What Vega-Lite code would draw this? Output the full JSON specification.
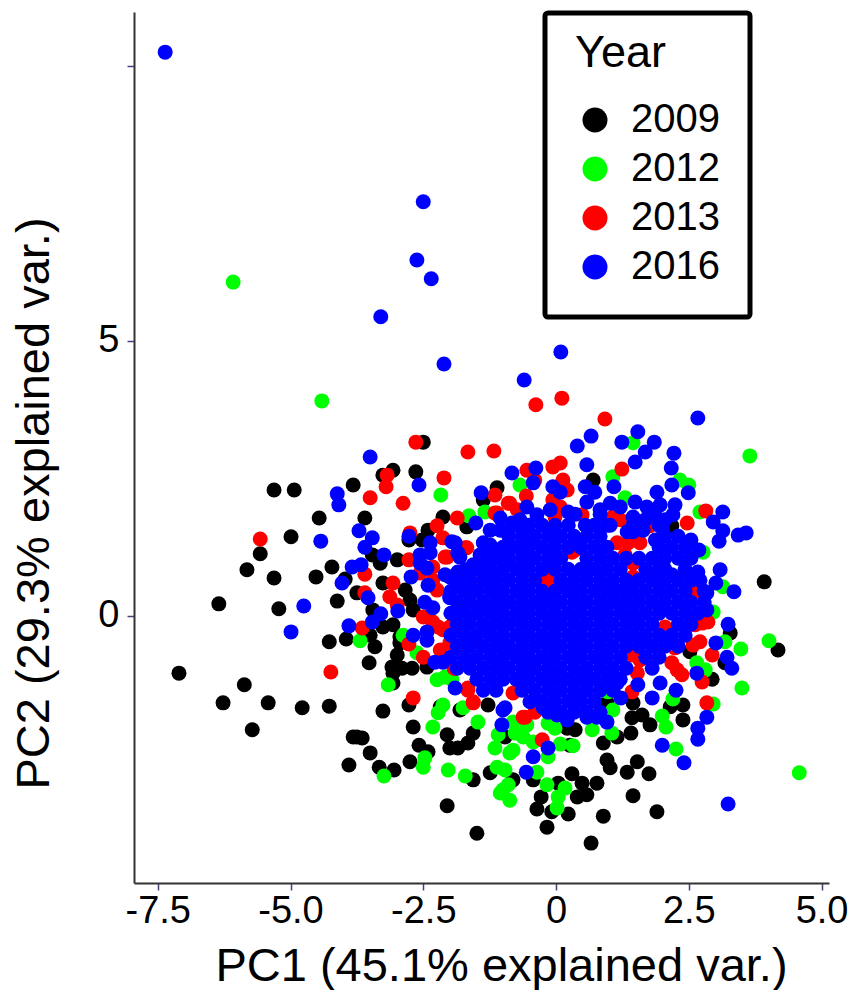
{"$schema":"https://vega.github.io/schema/vega-lite/v6.json","width":695,"height":871,"autosize":"none","padding":{"left":134,"top":12,"right":30,"bottom":107},"background":"white",
"config":{"view":{"stroke":null},"font":"Liberation Sans","legend":{"strokeWidth":5},"axis":{"grid":false,"domainColor":"#333333","domainWidth":2,"tickColor":"#4b3d78","tickSize":7,"tickWidth":1.5,"labelFont":"Liberation Sans","titleFont":"Liberation Sans","labelColor":"black","titleColor":"black","labelFontSize":38,"titleFontSize":47,"titleFontWeight":"normal","labelOverlap":false,"labelFlush":false}},
"data":{"values":[
{"c":-5.31,"d":2.29,"year":"2009"},{"c":-4.93,"d":2.29,"year":"2009"},{"c":-3.82,"d":2.38,"year":"2009"},{"c":-4.46,"d":1.78,"year":"2009"},{"c":-3.60,"d":1.78,"year":"2009"},{"c":-4.99,"d":1.44,"year":"2009"},{"c":-5.57,"d":1.13,"year":"2009"},{"c":-5.82,"d":0.84,"year":"2009"},{"c":-5.31,"d":0.69,"year":"2009"},{"c":-4.52,"d":0.71,"year":"2009"},{"c":-4.22,"d":0.89,"year":"2009"},{"c":-6.35,"d":0.22,"year":"2009"},{"c":-5.22,"d":0.13,"year":"2009"},{"c":-4.12,"d":0.27,"year":"2009"},{"c":-4.27,"d":-0.47,"year":"2009"},{"c":-3.95,"d":-0.42,"year":"2009"},{"c":-7.10,"d":-1.04,"year":"2009"},{"c":-5.87,"d":-1.25,"year":"2009"},{"c":-6.27,"d":-1.58,"year":"2009"},{"c":-5.42,"d":-1.58,"year":"2009"},{"c":-4.78,"d":-1.67,"year":"2009"},{"c":-4.27,"d":-1.64,"year":"2009"},{"c":-5.72,"d":-2.07,"year":"2009"},{"c":-3.26,"d":-1.73,"year":"2009"},{"c":-2.77,"d":-1.62,"year":"2009"},{"c":-2.69,"d":-2.02,"year":"2009"},{"c":-2.05,"d":-3.45,"year":"2009"},{"c":-1.49,"d":-3.95,"year":"2009"},{"c":-3.90,"d":-2.71,"year":"2009"},{"c":-3.50,"d":-2.49,"year":"2009"},{"c":-3.82,"d":-2.20,"year":"2009"},{"c":-3.65,"d":-2.22,"year":"2009"},{"c":-3.75,"d":-2.20,"year":"2009"},{"c":-3.33,"d":-2.75,"year":"2009"},{"c":-3.05,"d":-2.80,"year":"2009"},{"c":-2.75,"d":-2.65,"year":"2009"},{"c":-2.58,"d":-2.35,"year":"2009"},{"c":-2.41,"d":-2.47,"year":"2009"},{"c":-1.56,"d":-2.98,"year":"2009"},{"c":-1.24,"d":-2.85,"year":"2009"},{"c":-2.05,"d":-2.16,"year":"2009"},{"c":-2.00,"d":-2.40,"year":"2009"},{"c":-1.85,"d":-2.40,"year":"2009"},{"c":-1.66,"d":-2.31,"year":"2009"},{"c":-1.56,"d":-2.13,"year":"2009"},{"c":-1.81,"d":-1.71,"year":"2009"},{"c":-1.28,"d":-1.62,"year":"2009"},{"c":-2.18,"d":-1.65,"year":"2009"},{"c":-2.50,"d":3.16,"year":"2009"},{"c":-3.07,"d":2.65,"year":"2009"},{"c":-3.26,"d":2.56,"year":"2009"},{"c":-2.64,"d":2.62,"year":"2009"},{"c":-2.77,"d":1.38,"year":"2009"},{"c":-2.13,"d":1.80,"year":"2009"},{"c":-2.41,"d":1.56,"year":"2009"},{"c":-2.52,"d":1.38,"year":"2009"},{"c":-1.68,"d":1.62,"year":"2009"},{"c":-1.11,"d":2.33,"year":"2009"},{"c":-1.37,"d":2.11,"year":"2009"},{"c":-3.46,"d":1.11,"year":"2009"},{"c":-3.31,"d":0.96,"year":"2009"},{"c":-2.99,"d":1.02,"year":"2009"},{"c":-3.97,"d":0.67,"year":"2009"},{"c":-3.75,"d":0.42,"year":"2009"},{"c":-3.26,"d":0.60,"year":"2009"},{"c":-2.84,"d":0.47,"year":"2009"},{"c":-2.75,"d":0.29,"year":"2009"},{"c":-2.69,"d":0.11,"year":"2009"},{"c":-3.45,"d":0.11,"year":"2009"},{"c":-3.26,"d":-0.20,"year":"2009"},{"c":-3.07,"d":-0.16,"year":"2009"},{"c":-3.50,"d":-0.35,"year":"2009"},{"c":-3.41,"d":-0.56,"year":"2009"},{"c":-2.94,"d":-0.38,"year":"2009"},{"c":-2.94,"d":-0.49,"year":"2009"},{"c":-2.99,"d":-0.71,"year":"2009"},{"c":-3.09,"d":-0.93,"year":"2009"},{"c":-3.52,"d":-0.85,"year":"2009"},{"c":-2.90,"d":-0.95,"year":"2009"},{"c":-2.71,"d":-0.95,"year":"2009"},{"c":-2.43,"d":-0.93,"year":"2009"},{"c":-3.07,"d":-1.22,"year":"2009"},{"c":-3.07,"d":-1.04,"year":"2009"},
{"c":3.92,"d":0.62,"year":"2009"},{"c":4.18,"d":-0.62,"year":"2009"},{"c":0.70,"d":2.47,"year":"2009"},{"c":2.18,"d":1.64,"year":"2009"},{"c":3.28,"d":-0.31,"year":"2009"},{"c":2.52,"d":-0.65,"year":"2009"},{"c":2.94,"d":-1.15,"year":"2009"},{"c":3.18,"d":-0.85,"year":"2009"},{"c":2.39,"d":-1.89,"year":"2009"},{"c":2.39,"d":-1.62,"year":"2009"},{"c":2.15,"d":-1.65,"year":"2009"},{"c":1.62,"d":-1.80,"year":"2009"},{"c":1.43,"d":-1.85,"year":"2009"},{"c":1.41,"d":-2.13,"year":"2009"},{"c":1.77,"d":-1.98,"year":"2009"},{"c":1.15,"d":-2.20,"year":"2009"},{"c":0.89,"d":-2.31,"year":"2009"},{"c":0.36,"d":-2.07,"year":"2009"},{"c":0.21,"d":-2.04,"year":"2009"},{"c":0.96,"d":-2.62,"year":"2009"},{"c":1.02,"d":-2.76,"year":"2009"},{"c":1.53,"d":-2.65,"year":"2009"},{"c":1.34,"d":-2.84,"year":"2009"},{"c":1.75,"d":-2.87,"year":"2009"},{"c":0.30,"d":-2.87,"year":"2009"},{"c":0.77,"d":-3.04,"year":"2009"},{"c":0.49,"d":-3.04,"year":"2009"},{"c":0.58,"d":-3.25,"year":"2009"},{"c":0.40,"d":-3.29,"year":"2009"},{"c":1.45,"d":-3.27,"year":"2009"},{"c":1.90,"d":-3.56,"year":"2009"},{"c":0.89,"d":-3.64,"year":"2009"},{"c":0.23,"d":-3.60,"year":"2009"},{"c":-0.28,"d":-3.29,"year":"2009"},{"c":-0.36,"d":-3.51,"year":"2009"},{"c":-0.08,"d":-3.56,"year":"2009"},{"c":-0.17,"d":-3.84,"year":"2009"},{"c":0.66,"d":-4.13,"year":"2009"},{"c":0.04,"d":-3.04,"year":"2009"},{"c":-0.43,"d":-2.98,"year":"2009"},{"c":0.26,"d":-2.35,"year":"2009"},{"c":-0.96,"d":-2.20,"year":"2009"},{"c":-0.81,"d":-2.98,"year":"2009"},{"c":0.96,"d":-1.58,"year":"2009"},{"c":1.45,"d":-1.58,"year":"2009"},
{"c":-6.08,"d":6.07,"year":"2012"},{"c":-4.41,"d":3.91,"year":"2012"},{"c":-2.17,"d":2.20,"year":"2012"},{"c":-3.69,"d":-0.45,"year":"2012"},{"c":-3.16,"d":-1.25,"year":"2012"},{"c":-2.24,"d":-1.16,"year":"2012"},{"c":-2.09,"d":-1.11,"year":"2012"},{"c":-1.96,"d":-1.16,"year":"2012"},{"c":-2.13,"d":-1.62,"year":"2012"},{"c":-2.22,"d":-1.76,"year":"2012"},{"c":-2.32,"d":-2.02,"year":"2012"},{"c":-2.47,"d":-2.58,"year":"2012"},{"c":-2.50,"d":-2.75,"year":"2012"},{"c":-3.24,"d":-2.91,"year":"2012"},{"c":-2.03,"d":-2.80,"year":"2012"},{"c":-1.71,"d":-2.91,"year":"2012"},{"c":-1.15,"d":-2.40,"year":"2012"},{"c":-1.11,"d":-2.75,"year":"2012"},{"c":-1.05,"d":-3.22,"year":"2012"},{"c":-1.47,"d":-1.93,"year":"2012"},{"c":-1.75,"d":-1.67,"year":"2012"},{"c":-2.88,"d":-0.35,"year":"2012"},{"c":-2.62,"d":-0.67,"year":"2012"},{"c":-1.64,"d":1.82,"year":"2012"},{"c":-1.34,"d":1.89,"year":"2012"},{"c":3.65,"d":2.91,"year":"2012"},{"c":1.45,"d":3.15,"year":"2012"},{"c":4.58,"d":-2.85,"year":"2012"},{"c":4.01,"d":-0.45,"year":"2012"},{"c":3.48,"d":-0.60,"year":"2012"},{"c":3.50,"d":-1.31,"year":"2012"},{"c":2.26,"d":-2.42,"year":"2012"},{"c":2.07,"d":-2.02,"year":"2012"},{"c":2.00,"d":-1.82,"year":"2012"},{"c":2.20,"d":-1.51,"year":"2012"},{"c":1.05,"d":-2.13,"year":"2012"},{"c":0.68,"d":-2.07,"year":"2012"},{"c":0.32,"d":-2.36,"year":"2012"},{"c":0.08,"d":-2.33,"year":"2012"},{"c":-0.15,"d":-2.56,"year":"2012"},{"c":-0.17,"d":-3.07,"year":"2012"},{"c":0.17,"d":-3.13,"year":"2012"},{"c":0.04,"d":-3.29,"year":"2012"},{"c":0.02,"d":-3.49,"year":"2012"},{"c":-0.87,"d":-3.35,"year":"2012"},{"c":-0.90,"d":-3.07,"year":"2012"},{"c":-1.00,"d":-3.16,"year":"2012"},{"c":-0.96,"d":-2.80,"year":"2012"},{"c":-0.36,"d":-2.84,"year":"2012"},{"c":-0.81,"d":-2.44,"year":"2012"},{"c":-0.77,"d":-2.13,"year":"2012"},{"c":-0.62,"d":-2.20,"year":"2012"},{"c":-0.87,"d":-2.49,"year":"2012"},{"c":-0.15,"d":-1.95,"year":"2012"},{"c":-0.02,"d":-2.04,"year":"2012"},{"c":-0.43,"d":-2.29,"year":"2012"},{"c":-0.81,"d":-1.93,"year":"2012"},{"c":1.07,"d":2.53,"year":"2012"},{"c":2.33,"d":2.47,"year":"2012"},{"c":2.50,"d":2.38,"year":"2012"},{"c":1.30,"d":2.15,"year":"2012"},{"c":2.71,"d":1.89,"year":"2012"},{"c":2.77,"d":1.16,"year":"2012"},{"c":3.14,"d":0.53,"year":"2012"},{"c":2.96,"d":0.07,"year":"2012"},{"c":3.18,"d":-0.47,"year":"2012"},{"c":2.65,"d":-0.85,"year":"2012"},{"c":2.81,"d":-0.98,"year":"2012"},{"c":2.96,"d":-1.60,"year":"2012"},{"c":1.07,"d":-1.71,"year":"2012"},{"c":0.98,"d":-1.38,"year":"2012"},{"c":-0.68,"d":2.38,"year":"2012"},{"c":2.52,"d":0.65,"year":"2012"},{"c":-0.55,"d":-1.98,"year":"2012"},{"c":-1.09,"d":-2.16,"year":"2012"},{"c":-0.72,"d":0.20,"year":"2012"},{"c":-1.05,"d":-0.44,"year":"2012"},{"c":0.08,"d":-1.16,"year":"2012"},{"c":0.83,"d":-1.35,"year":"2012"},{"c":1.58,"d":0.29,"year":"2012"},{"c":0.30,"d":-0.44,"year":"2012"},{"c":-0.94,"d":-0.11,"year":"2012"},{"c":-1.24,"d":0.75,"year":"2012"},{"c":-0.49,"d":-0.98,"year":"2012"},
{"c":-2.64,"d":3.16,"year":"2013"},{"c":-1.66,"d":2.98,"year":"2013"},{"c":-1.17,"d":3.00,"year":"2013"},{"c":-3.18,"d":2.56,"year":"2013"},{"c":-3.20,"d":2.35,"year":"2013"},{"c":-2.11,"d":2.51,"year":"2013"},{"c":-3.50,"d":2.15,"year":"2013"},{"c":-2.88,"d":2.05,"year":"2013"},{"c":-5.57,"d":1.40,"year":"2013"},{"c":-1.86,"d":1.78,"year":"2013"},{"c":-2.24,"d":1.64,"year":"2013"},{"c":-2.75,"d":1.51,"year":"2013"},{"c":-1.15,"d":2.20,"year":"2013"},{"c":-1.15,"d":1.87,"year":"2013"},{"c":-2.77,"d":1.02,"year":"2013"},{"c":-3.60,"d":0.76,"year":"2013"},{"c":-3.07,"d":0.60,"year":"2013"},{"c":-3.13,"d":0.35,"year":"2013"},{"c":-3.60,"d":0.42,"year":"2013"},{"c":-2.99,"d":0.20,"year":"2013"},{"c":-3.65,"d":-0.22,"year":"2013"},{"c":-2.50,"d":-0.02,"year":"2013"},{"c":-2.32,"d":-0.11,"year":"2013"},{"c":-2.13,"d":-0.25,"year":"2013"},{"c":-2.22,"d":-0.20,"year":"2013"},{"c":-1.94,"d":-0.20,"year":"2013"},{"c":-2.77,"d":-0.51,"year":"2013"},{"c":-2.50,"d":-0.75,"year":"2013"},{"c":-2.18,"d":-0.62,"year":"2013"},{"c":-2.00,"d":-0.49,"year":"2013"},{"c":-4.24,"d":-1.02,"year":"2013"},{"c":-1.92,"d":-0.95,"year":"2013"},{"c":-2.69,"d":-1.49,"year":"2013"},{"c":-1.56,"d":-1.58,"year":"2013"},{"c":-1.66,"d":-1.31,"year":"2013"},{"c":-1.58,"d":-0.44,"year":"2013"},{"c":-2.09,"d":1.07,"year":"2013"},{"c":-2.32,"d":0.89,"year":"2013"},{"c":-2.13,"d":1.42,"year":"2013"},{"c":-1.68,"d":1.24,"year":"2013"},{"c":-2.24,"d":0.47,"year":"2013"},{"c":-2.32,"d":0.65,"year":"2013"},{"c":-2.56,"d":0.78,"year":"2013"},{"c":-1.62,"d":0.65,"year":"2013"},{"c":-0.38,"d":3.84,"year":"2013"},{"c":0.11,"d":3.96,"year":"2013"},{"c":0.92,"d":3.58,"year":"2013"},{"c":0.08,"d":2.78,"year":"2013"},{"c":-0.06,"d":2.71,"year":"2013"},{"c":-0.55,"d":2.65,"year":"2013"},{"c":-0.40,"d":2.47,"year":"2013"},{"c":-0.56,"d":2.18,"year":"2013"},{"c":0.13,"d":2.47,"year":"2013"},{"c":0.21,"d":2.29,"year":"2013"},{"c":-0.06,"d":2.11,"year":"2013"},{"c":0.08,"d":1.98,"year":"2013"},{"c":-0.87,"d":2.05,"year":"2013"},{"c":-0.73,"d":1.93,"year":"2013"},{"c":1.24,"d":2.67,"year":"2013"},{"c":2.47,"d":1.69,"year":"2013"},{"c":2.82,"d":1.91,"year":"2013"},{"c":0.49,"d":1.84,"year":"2013"},{"c":1.07,"d":1.80,"year":"2013"},{"c":1.21,"d":1.75,"year":"2013"},{"c":1.77,"d":1.64,"year":"2013"},{"c":1.15,"d":1.33,"year":"2013"},{"c":1.36,"d":1.33,"year":"2013"},{"c":1.58,"d":1.33,"year":"2013"},{"c":1.30,"d":1.11,"year":"2013"},{"c":1.45,"d":0.96,"year":"2013"},{"c":1.45,"d":0.71,"year":"2013"},{"c":2.05,"d":0.69,"year":"2013"},{"c":2.62,"d":0.44,"year":"2013"},{"c":2.75,"d":-0.13,"year":"2013"},{"c":2.62,"d":-0.16,"year":"2013"},{"c":2.86,"d":-0.11,"year":"2013"},{"c":2.71,"d":-0.47,"year":"2013"},{"c":2.58,"d":-0.53,"year":"2013"},{"c":2.05,"d":-0.20,"year":"2013"},{"c":2.24,"d":-0.58,"year":"2013"},{"c":2.18,"d":-0.85,"year":"2013"},{"c":2.28,"d":-0.98,"year":"2013"},{"c":2.37,"d":-1.07,"year":"2013"},{"c":1.43,"d":-0.71,"year":"2013"},{"c":1.53,"d":-1.04,"year":"2013"},{"c":1.43,"d":-1.38,"year":"2013"},{"c":2.94,"d":-0.71,"year":"2013"},{"c":2.75,"d":-1.20,"year":"2013"},{"c":2.84,"d":-1.58,"year":"2013"},{"c":-0.26,"d":-2.25,"year":"2013"},{"c":-0.58,"d":-1.84,"year":"2013"},{"c":-0.40,"d":-1.75,"year":"2013"},{"c":0.51,"d":-1.11,"year":"2013"},{"c":0.04,"d":-1.11,"year":"2013"},{"c":-0.15,"d":0.65,"year":"2013"},{"c":0.40,"d":0.44,"year":"2013"},{"c":0.96,"d":0.51,"year":"2013"},{"c":1.07,"d":0.44,"year":"2013"},{"c":-0.36,"d":0.24,"year":"2013"},{"c":1.45,"d":-0.02,"year":"2013"},{"c":-0.43,"d":-0.93,"year":"2013"},{"c":-0.64,"d":-0.76,"year":"2013"},{"c":-0.96,"d":0.96,"year":"2013"},{"c":0.30,"d":1.16,"year":"2013"},{"c":-0.06,"d":1.02,"year":"2013"},{"c":-1.24,"d":0.47,"year":"2013"},{"c":-1.28,"d":-0.25,"year":"2013"},{"c":-1.62,"d":-0.44,"year":"2013"},{"c":-0.90,"d":0.96,"year":"2013"},{"c":-0.21,"d":0.71,"year":"2013"},{"c":0.13,"d":0.53,"year":"2013"},{"c":-0.53,"d":0.87,"year":"2013"},{"c":-0.58,"d":1.20,"year":"2013"},{"c":-2.00,"d":-0.20,"year":"2013"},{"c":-0.62,"d":-0.85,"year":"2013"},{"c":-0.40,"d":-0.95,"year":"2013"},{"c":-0.11,"d":-1.11,"year":"2013"},{"c":-1.24,"d":1.07,"year":"2013"},{"c":-0.90,"d":2.05,"year":"2013"},{"c":-1.11,"d":1.87,"year":"2013"},{"c":-1.66,"d":-1.35,"year":"2013"},{"c":-1.56,"d":-1.56,"year":"2013"},{"c":-0.62,"d":-1.84,"year":"2013"},{"c":-0.81,"d":-1.40,"year":"2013"},{"c":-1.90,"d":-0.95,"year":"2013"},{"c":-0.02,"d":1.80,"year":"2013"},{"c":-0.43,"d":1.38,"year":"2013"},{"c":0.36,"d":1.20,"year":"2013"},{"c":-2.05,"d":1.07,"year":"2013"},{"c":-1.71,"d":1.24,"year":"2013"},{"c":0.83,"d":0.11,"year":"2013"},{"c":0.45,"d":-0.44,"year":"2013"},{"c":1.21,"d":0.29,"year":"2013"},{"c":1.58,"d":-0.44,"year":"2013"},{"c":0.08,"d":-0.07,"year":"2013"},{"c":0.83,"d":-0.80,"year":"2013"},{"c":-0.68,"d":-0.07,"year":"2013"},{"c":-0.87,"d":-0.62,"year":"2013"},{"c":1.96,"d":0.11,"year":"2013"},{"c":-0.30,"d":-0.44,"year":"2013"},{"c":-1.43,"d":0.11,"year":"2013"},{"c":-1.05,"d":0.29,"year":"2013"},{"c":0.64,"d":0.84,"year":"2013"},{"c":1.77,"d":0.75,"year":"2013"},{"c":1.58,"d":-0.80,"year":"2013"},{"c":1.02,"d":-1.16,"year":"2013"},{"c":0.45,"d":-1.53,"year":"2013"},{"c":-0.96,"d":-0.98,"year":"2013"},{"c":-1.24,"d":0.11,"year":"2013"},
{"c":-7.36,"d":10.25,"year":"2016"},{"c":-2.50,"d":7.53,"year":"2016"},{"c":-2.62,"d":6.47,"year":"2016"},{"c":-2.35,"d":6.13,"year":"2016"},{"c":-3.30,"d":5.44,"year":"2016"},{"c":-2.11,"d":4.58,"year":"2016"},{"c":0.09,"d":4.80,"year":"2016"},{"c":-0.60,"d":4.29,"year":"2016"},{"c":2.67,"d":3.60,"year":"2016"},{"c":-3.50,"d":2.89,"year":"2016"},{"c":-2.58,"d":2.38,"year":"2016"},{"c":-4.12,"d":2.22,"year":"2016"},{"c":-4.09,"d":2.02,"year":"2016"},{"c":-1.41,"d":2.24,"year":"2016"},{"c":-1.51,"d":1.69,"year":"2016"},{"c":-3.71,"d":1.55,"year":"2016"},{"c":-3.46,"d":1.42,"year":"2016"},{"c":-3.60,"d":1.25,"year":"2016"},{"c":-4.43,"d":1.36,"year":"2016"},{"c":-2.77,"d":1.45,"year":"2016"},{"c":-3.24,"d":1.11,"year":"2016"},{"c":-3.84,"d":0.89,"year":"2016"},{"c":-3.67,"d":0.93,"year":"2016"},{"c":-4.03,"d":0.60,"year":"2016"},{"c":-3.54,"d":0.33,"year":"2016"},{"c":-4.75,"d":0.18,"year":"2016"},{"c":-4.99,"d":-0.29,"year":"2016"},{"c":-2.73,"d":0.71,"year":"2016"},{"c":-2.41,"d":0.56,"year":"2016"},{"c":-2.47,"d":0.25,"year":"2016"},{"c":-2.32,"d":0.15,"year":"2016"},{"c":-2.98,"d":0.09,"year":"2016"},{"c":-3.30,"d":0.04,"year":"2016"},{"c":-3.46,"d":-0.11,"year":"2016"},{"c":-3.90,"d":-0.18,"year":"2016"},{"c":-2.69,"d":-0.35,"year":"2016"},{"c":-2.43,"d":-0.29,"year":"2016"},{"c":-2.43,"d":-0.44,"year":"2016"},{"c":-2.37,"d":1.33,"year":"2016"},{"c":-2.56,"d":1.11,"year":"2016"},{"c":-2.37,"d":1.15,"year":"2016"},{"c":-2.56,"d":0.96,"year":"2016"},{"c":-2.43,"d":0.87,"year":"2016"},{"c":-1.96,"d":1.35,"year":"2016"},{"c":-1.85,"d":1.15,"year":"2016"},{"c":-2.09,"d":0.75,"year":"2016"},{"c":-1.85,"d":0.80,"year":"2016"},{"c":-1.75,"d":0.51,"year":"2016"},{"c":-2.00,"d":0.33,"year":"2016"},{"c":-1.96,"d":0.05,"year":"2016"},{"c":-1.77,"d":-0.25,"year":"2016"},{"c":-1.81,"d":-0.65,"year":"2016"},{"c":-2.28,"d":-0.84,"year":"2016"},{"c":-2.13,"d":-0.84,"year":"2016"},{"c":-1.90,"d":-1.31,"year":"2016"},{"c":-1.37,"d":1.33,"year":"2016"},{"c":-1.24,"d":1.29,"year":"2016"},{"c":-1.56,"d":0.93,"year":"2016"},{"c":-1.30,"d":0.89,"year":"2016"},{"c":-1.02,"d":-1.98,"year":"2016"},{"c":-1.00,"d":-1.71,"year":"2016"},{"c":0.66,"d":3.27,"year":"2016"},{"c":0.40,"d":3.09,"year":"2016"},{"c":1.24,"d":3.16,"year":"2016"},{"c":1.54,"d":3.35,"year":"2016"},{"c":1.85,"d":3.16,"year":"2016"},{"c":1.68,"d":2.98,"year":"2016"},{"c":1.49,"d":2.80,"year":"2016"},{"c":2.22,"d":2.96,"year":"2016"},{"c":2.17,"d":2.69,"year":"2016"},{"c":0.58,"d":2.75,"year":"2016"},{"c":-0.83,"d":2.60,"year":"2016"},{"c":-0.38,"d":2.69,"year":"2016"},{"c":-0.43,"d":2.42,"year":"2016"},{"c":-0.06,"d":2.35,"year":"2016"},{"c":0.08,"d":2.25,"year":"2016"},{"c":0.55,"d":2.35,"year":"2016"},{"c":0.73,"d":2.25,"year":"2016"},{"c":1.09,"d":2.35,"year":"2016"},{"c":1.90,"d":2.25,"year":"2016"},{"c":2.18,"d":2.38,"year":"2016"},{"c":2.49,"d":2.24,"year":"2016"},{"c":2.24,"d":2.02,"year":"2016"},{"c":2.20,"d":1.84,"year":"2016"},{"c":3.14,"d":1.89,"year":"2016"},{"c":2.96,"d":1.71,"year":"2016"},{"c":3.14,"d":1.55,"year":"2016"},{"c":3.07,"d":1.36,"year":"2016"},{"c":3.43,"d":1.47,"year":"2016"},{"c":3.58,"d":1.51,"year":"2016"},{"c":2.30,"d":1.45,"year":"2016"},{"c":2.54,"d":1.38,"year":"2016"},{"c":2.69,"d":1.20,"year":"2016"},{"c":2.00,"d":1.60,"year":"2016"},{"c":3.09,"d":0.84,"year":"2016"},{"c":3.01,"d":0.60,"year":"2016"},{"c":3.35,"d":0.44,"year":"2016"},{"c":2.67,"d":0.80,"year":"2016"},{"c":2.84,"d":0.42,"year":"2016"},{"c":2.71,"d":0.65,"year":"2016"},{"c":2.84,"d":0.11,"year":"2016"},{"c":3.24,"d":-0.15,"year":"2016"},{"c":3.01,"d":-0.49,"year":"2016"},{"c":3.22,"d":-0.75,"year":"2016"},{"c":3.31,"d":-0.95,"year":"2016"},{"c":2.65,"d":-1.04,"year":"2016"},{"c":2.84,"d":-1.84,"year":"2016"},{"c":2.67,"d":-2.04,"year":"2016"},{"c":2.67,"d":-2.24,"year":"2016"},{"c":2.00,"d":-2.35,"year":"2016"},{"c":2.41,"d":-2.67,"year":"2016"},{"c":3.24,"d":-3.42,"year":"2016"},{"c":-0.15,"d":-2.40,"year":"2016"},{"c":-0.43,"d":-2.56,"year":"2016"},{"c":-0.56,"d":-2.84,"year":"2016"},{"c":2.26,"d":-1.35,"year":"2016"},{"c":1.81,"d":-1.49,"year":"2016"},{"c":1.96,"d":-1.22,"year":"2016"},{"c":1.54,"d":-1.25,"year":"2016"},{"c":1.22,"d":-1.49,"year":"2016"},{"c":0.96,"d":-1.93,"year":"2016"},{"c":0.77,"d":-1.84,"year":"2016"},{"c":0.58,"d":-1.84,"year":"2016"},{"c":0.21,"d":-1.89,"year":"2016"},{"c":0.02,"d":-1.80,"year":"2016"},{"c":-0.24,"d":-1.67,"year":"2016"},{"c":-0.49,"d":-1.56,"year":"2016"},{"c":-0.96,"d":-1.67,"year":"2016"},{"c":1.15,"d":-1.22,"year":"2016"},{"c":1.02,"d":2.05,"year":"2016"},{"c":1.21,"d":1.98,"year":"2016"},{"c":1.49,"d":2.07,"year":"2016"},{"c":1.71,"d":1.98,"year":"2016"},{"c":1.96,"d":2.02,"year":"2016"},{"c":0.83,"d":1.93,"year":"2016"},{"c":0.58,"d":2.07,"year":"2016"},{"c":0.23,"d":1.89,"year":"2016"},{"c":-0.55,"d":1.98,"year":"2016"},{"c":-0.36,"d":1.84,"year":"2016"},{"c":1.45,"d":1.80,"year":"2016"},{"c":1.45,"d":1.53,"year":"2016"},{"c":1.64,"d":1.56,"year":"2016"},{"c":1.34,"d":1.53,"year":"2016"},{"c":-0.83,"d":1.69,"year":"2016"},{"c":-0.55,"d":1.51,"year":"2016"},{"c":-1.90,"d":1.33,"year":"2016"},{"c":-1.81,"d":1.07,"year":"2016"},{"c":-0.90,"d":1.20,"year":"2016"},{"c":-1.49,"d":0.89,"year":"2016"},{"c":-2.00,"d":0.71,"year":"2016"},{"c":-2.00,"d":0.35,"year":"2016"},
{"c":1.68,"d":1.75,"year":"2016"},{"c":1.87,"d":1.38,"year":"2016"},{"c":1.02,"d":1.65,"year":"2016"},{"c":0.55,"d":1.65,"year":"2016"},{"c":-0.02,"d":1.65,"year":"2016"},{"c":-1.05,"d":1.56,"year":"2016"},{"c":-1.24,"d":1.56,"year":"2016"},{"c":-1.43,"d":1.11,"year":"2016"},{"c":-1.71,"d":0.84,"year":"2016"},{"c":0.83,"d":1.85,"year":"2016"},{"c":0.36,"d":1.85,"year":"2016"},{"c":-0.11,"d":1.93,"year":"2016"},{"c":-0.68,"d":1.75,"year":"2016"},{"c":-1.05,"d":1.78,"year":"2016"},{"c":1.86,"d":1.84,"year":"2016"},{"c":2.05,"d":1.75,"year":"2016"},{"c":2.18,"d":0.75,"year":"2016"},{"c":2.79,"d":0.45,"year":"2016"},{"c":2.54,"d":-0.15,"year":"2016"},{"c":2.30,"d":-0.55,"year":"2016"},{"c":-1.98,"d":0.45,"year":"2016"},{"c":-1.98,"d":0.05,"year":"2016"},{"c":-1.98,"d":-0.35,"year":"2016"},{"c":-1.98,"d":-0.75,"year":"2016"},{"c":-1.86,"d":0.65,"year":"2016"},{"c":-1.86,"d":0.25,"year":"2016"},{"c":-1.86,"d":-0.15,"year":"2016"},{"c":-1.86,"d":-0.55,"year":"2016"},{"c":-1.86,"d":-0.95,"year":"2016"},{"c":0.96,"d":0.45,"year":"2016"},{"c":2.05,"d":0.85,"year":"2016"},{"c":1.07,"d":1.05,"year":"2016"},{"c":1.32,"d":1.05,"year":"2016"},{"c":1.56,"d":1.05,"year":"2016"},{"c":2.05,"d":0.65,"year":"2016"},
{"c":-0.75,"d":1.65,"year":"2016"},{"c":-0.51,"d":1.65,"year":"2016"},{"c":-0.26,"d":1.65,"year":"2016"},{"c":0.23,"d":1.65,"year":"2016"},{"c":0.72,"d":1.65,"year":"2016"},{"c":0.96,"d":1.65,"year":"2016"},{"c":1.45,"d":1.65,"year":"2016"},{"c":1.94,"d":1.65,"year":"2016"},
{"c":-0.89,"d":1.45,"year":"2016"},{"c":-0.64,"d":1.45,"year":"2016"},{"c":-0.40,"d":1.45,"year":"2016"},{"c":-0.15,"d":1.45,"year":"2016"},{"c":0.09,"d":1.45,"year":"2016"},{"c":0.34,"d":1.45,"year":"2016"},{"c":0.58,"d":1.45,"year":"2016"},{"c":0.83,"d":1.45,"year":"2016"},{"c":2.05,"d":1.45,"year":"2016"},
{"c":-1.24,"d":1.25,"year":"2016"},{"c":-1.00,"d":1.25,"year":"2016"},{"c":-0.75,"d":1.25,"year":"2016"},{"c":-0.51,"d":1.25,"year":"2016"},{"c":-0.26,"d":1.25,"year":"2016"},{"c":-0.02,"d":1.25,"year":"2016"},{"c":0.23,"d":1.25,"year":"2016"},{"c":0.47,"d":1.25,"year":"2016"},{"c":0.72,"d":1.25,"year":"2016"},{"c":0.96,"d":1.25,"year":"2016"},{"c":1.94,"d":1.25,"year":"2016"},{"c":2.18,"d":1.25,"year":"2016"},{"c":2.43,"d":1.25,"year":"2016"},
{"c":-1.37,"d":1.05,"year":"2016"},{"c":-1.13,"d":1.05,"year":"2016"},{"c":-0.89,"d":1.05,"year":"2016"},{"c":-0.64,"d":1.05,"year":"2016"},{"c":-0.40,"d":1.05,"year":"2016"},{"c":-0.15,"d":1.05,"year":"2016"},{"c":0.09,"d":1.05,"year":"2016"},{"c":0.58,"d":1.05,"year":"2016"},{"c":0.83,"d":1.05,"year":"2016"},{"c":1.81,"d":1.05,"year":"2016"},{"c":2.05,"d":1.05,"year":"2016"},{"c":2.30,"d":1.05,"year":"2016"},{"c":2.54,"d":1.05,"year":"2016"},
{"c":-1.49,"d":0.85,"year":"2016"},{"c":-1.24,"d":0.85,"year":"2016"},{"c":-1.00,"d":0.85,"year":"2016"},{"c":-0.75,"d":0.85,"year":"2016"},{"c":-0.51,"d":0.85,"year":"2016"},{"c":-0.26,"d":0.85,"year":"2016"},{"c":-0.02,"d":0.85,"year":"2016"},{"c":0.23,"d":0.85,"year":"2016"},{"c":0.47,"d":0.85,"year":"2016"},{"c":0.72,"d":0.85,"year":"2016"},{"c":0.96,"d":0.85,"year":"2016"},{"c":1.21,"d":0.85,"year":"2016"},{"c":1.69,"d":0.85,"year":"2016"},{"c":1.94,"d":0.85,"year":"2016"},{"c":2.43,"d":0.85,"year":"2016"},
{"c":-1.62,"d":0.65,"year":"2016"},{"c":-1.37,"d":0.65,"year":"2016"},{"c":-1.13,"d":0.65,"year":"2016"},{"c":-0.89,"d":0.65,"year":"2016"},{"c":-0.64,"d":0.65,"year":"2016"},{"c":-0.40,"d":0.65,"year":"2016"},{"c":0.09,"d":0.65,"year":"2016"},{"c":0.34,"d":0.65,"year":"2016"},{"c":0.58,"d":0.65,"year":"2016"},{"c":0.83,"d":0.65,"year":"2016"},{"c":1.07,"d":0.65,"year":"2016"},{"c":1.32,"d":0.65,"year":"2016"},{"c":1.56,"d":0.65,"year":"2016"},{"c":1.81,"d":0.65,"year":"2016"},{"c":2.30,"d":0.65,"year":"2016"},{"c":2.54,"d":0.65,"year":"2016"},
{"c":-1.73,"d":0.45,"year":"2016"},{"c":-1.49,"d":0.45,"year":"2016"},{"c":-1.24,"d":0.45,"year":"2016"},{"c":-1.00,"d":0.45,"year":"2016"},{"c":-0.75,"d":0.45,"year":"2016"},{"c":-0.51,"d":0.45,"year":"2016"},{"c":-0.26,"d":0.45,"year":"2016"},{"c":-0.02,"d":0.45,"year":"2016"},{"c":0.23,"d":0.45,"year":"2016"},{"c":0.47,"d":0.45,"year":"2016"},{"c":0.72,"d":0.45,"year":"2016"},{"c":1.21,"d":0.45,"year":"2016"},{"c":1.45,"d":0.45,"year":"2016"},{"c":1.69,"d":0.45,"year":"2016"},{"c":1.94,"d":0.45,"year":"2016"},{"c":2.18,"d":0.45,"year":"2016"},{"c":2.43,"d":0.45,"year":"2016"},
{"c":-1.62,"d":0.25,"year":"2016"},{"c":-1.37,"d":0.25,"year":"2016"},{"c":-1.13,"d":0.25,"year":"2016"},{"c":-0.89,"d":0.25,"year":"2016"},{"c":-0.64,"d":0.25,"year":"2016"},{"c":-0.40,"d":0.25,"year":"2016"},{"c":-0.15,"d":0.25,"year":"2016"},{"c":0.09,"d":0.25,"year":"2016"},{"c":0.34,"d":0.25,"year":"2016"},{"c":0.58,"d":0.25,"year":"2016"},{"c":0.83,"d":0.25,"year":"2016"},{"c":1.07,"d":0.25,"year":"2016"},{"c":1.32,"d":0.25,"year":"2016"},{"c":1.56,"d":0.25,"year":"2016"},{"c":1.81,"d":0.25,"year":"2016"},{"c":2.05,"d":0.25,"year":"2016"},{"c":2.30,"d":0.25,"year":"2016"},{"c":2.54,"d":0.25,"year":"2016"},{"c":2.79,"d":0.25,"year":"2016"},
{"c":-1.73,"d":0.05,"year":"2016"},{"c":-1.49,"d":0.05,"year":"2016"},{"c":-1.24,"d":0.05,"year":"2016"},{"c":-1.00,"d":0.05,"year":"2016"},{"c":-0.75,"d":0.05,"year":"2016"},{"c":-0.51,"d":0.05,"year":"2016"},{"c":-0.26,"d":0.05,"year":"2016"},{"c":-0.02,"d":0.05,"year":"2016"},{"c":0.23,"d":0.05,"year":"2016"},{"c":0.47,"d":0.05,"year":"2016"},{"c":0.72,"d":0.05,"year":"2016"},{"c":0.96,"d":0.05,"year":"2016"},{"c":1.21,"d":0.05,"year":"2016"},{"c":1.45,"d":0.05,"year":"2016"},{"c":1.69,"d":0.05,"year":"2016"},{"c":1.94,"d":0.05,"year":"2016"},{"c":2.18,"d":0.05,"year":"2016"},{"c":2.43,"d":0.05,"year":"2016"},{"c":2.67,"d":0.05,"year":"2016"},
{"c":-1.62,"d":-0.15,"year":"2016"},{"c":-1.37,"d":-0.15,"year":"2016"},{"c":-1.13,"d":-0.15,"year":"2016"},{"c":-0.89,"d":-0.15,"year":"2016"},{"c":-0.64,"d":-0.15,"year":"2016"},{"c":-0.40,"d":-0.15,"year":"2016"},{"c":-0.15,"d":-0.15,"year":"2016"},{"c":0.09,"d":-0.15,"year":"2016"},{"c":0.34,"d":-0.15,"year":"2016"},{"c":0.58,"d":-0.15,"year":"2016"},{"c":0.83,"d":-0.15,"year":"2016"},{"c":1.07,"d":-0.15,"year":"2016"},{"c":1.32,"d":-0.15,"year":"2016"},{"c":1.56,"d":-0.15,"year":"2016"},{"c":1.81,"d":-0.15,"year":"2016"},{"c":2.30,"d":-0.15,"year":"2016"},
{"c":-1.73,"d":-0.35,"year":"2016"},{"c":-1.49,"d":-0.35,"year":"2016"},{"c":-1.24,"d":-0.35,"year":"2016"},{"c":-1.00,"d":-0.35,"year":"2016"},{"c":-0.75,"d":-0.35,"year":"2016"},{"c":-0.51,"d":-0.35,"year":"2016"},{"c":-0.26,"d":-0.35,"year":"2016"},{"c":-0.02,"d":-0.35,"year":"2016"},{"c":0.23,"d":-0.35,"year":"2016"},{"c":0.47,"d":-0.35,"year":"2016"},{"c":0.72,"d":-0.35,"year":"2016"},{"c":0.96,"d":-0.35,"year":"2016"},{"c":1.21,"d":-0.35,"year":"2016"},{"c":1.45,"d":-0.35,"year":"2016"},{"c":1.69,"d":-0.35,"year":"2016"},{"c":1.94,"d":-0.35,"year":"2016"},{"c":2.18,"d":-0.35,"year":"2016"},{"c":2.43,"d":-0.35,"year":"2016"},
{"c":-1.62,"d":-0.55,"year":"2016"},{"c":-1.37,"d":-0.55,"year":"2016"},{"c":-1.13,"d":-0.55,"year":"2016"},{"c":-0.89,"d":-0.55,"year":"2016"},{"c":-0.64,"d":-0.55,"year":"2016"},{"c":-0.40,"d":-0.55,"year":"2016"},{"c":-0.15,"d":-0.55,"year":"2016"},{"c":0.09,"d":-0.55,"year":"2016"},{"c":0.34,"d":-0.55,"year":"2016"},{"c":0.58,"d":-0.55,"year":"2016"},{"c":0.83,"d":-0.55,"year":"2016"},{"c":1.07,"d":-0.55,"year":"2016"},{"c":1.32,"d":-0.55,"year":"2016"},{"c":1.56,"d":-0.55,"year":"2016"},{"c":1.81,"d":-0.55,"year":"2016"},{"c":2.05,"d":-0.55,"year":"2016"},
{"c":-1.73,"d":-0.75,"year":"2016"},{"c":-1.49,"d":-0.75,"year":"2016"},{"c":-1.24,"d":-0.75,"year":"2016"},{"c":-1.00,"d":-0.75,"year":"2016"},{"c":-0.75,"d":-0.75,"year":"2016"},{"c":-0.51,"d":-0.75,"year":"2016"},{"c":-0.26,"d":-0.75,"year":"2016"},{"c":-0.02,"d":-0.75,"year":"2016"},{"c":0.23,"d":-0.75,"year":"2016"},{"c":0.47,"d":-0.75,"year":"2016"},{"c":0.72,"d":-0.75,"year":"2016"},{"c":0.96,"d":-0.75,"year":"2016"},{"c":1.21,"d":-0.75,"year":"2016"},{"c":1.69,"d":-0.75,"year":"2016"},{"c":1.94,"d":-0.75,"year":"2016"},
{"c":-1.62,"d":-0.95,"year":"2016"},{"c":-1.37,"d":-0.95,"year":"2016"},{"c":-1.13,"d":-0.95,"year":"2016"},{"c":-0.89,"d":-0.95,"year":"2016"},{"c":-0.64,"d":-0.95,"year":"2016"},{"c":-0.40,"d":-0.95,"year":"2016"},{"c":-0.15,"d":-0.95,"year":"2016"},{"c":0.09,"d":-0.95,"year":"2016"},{"c":0.34,"d":-0.95,"year":"2016"},{"c":0.58,"d":-0.95,"year":"2016"},{"c":0.83,"d":-0.95,"year":"2016"},{"c":1.07,"d":-0.95,"year":"2016"},{"c":1.32,"d":-0.95,"year":"2016"},{"c":1.81,"d":-0.95,"year":"2016"},
{"c":-1.49,"d":-1.15,"year":"2016"},{"c":-1.24,"d":-1.15,"year":"2016"},{"c":-1.00,"d":-1.15,"year":"2016"},{"c":-0.75,"d":-1.15,"year":"2016"},{"c":-0.51,"d":-1.15,"year":"2016"},{"c":-0.26,"d":-1.15,"year":"2016"},{"c":-0.02,"d":-1.15,"year":"2016"},{"c":0.23,"d":-1.15,"year":"2016"},{"c":0.47,"d":-1.15,"year":"2016"},{"c":0.72,"d":-1.15,"year":"2016"},{"c":0.96,"d":-1.15,"year":"2016"},{"c":1.21,"d":-1.15,"year":"2016"},
{"c":-1.37,"d":-1.35,"year":"2016"},{"c":-1.13,"d":-1.35,"year":"2016"},{"c":-0.64,"d":-1.35,"year":"2016"},{"c":-0.40,"d":-1.35,"year":"2016"},{"c":-0.15,"d":-1.35,"year":"2016"},{"c":0.09,"d":-1.35,"year":"2016"},{"c":0.34,"d":-1.35,"year":"2016"},{"c":0.58,"d":-1.35,"year":"2016"},{"c":0.83,"d":-1.35,"year":"2016"},{"c":1.07,"d":-1.35,"year":"2016"},
{"c":-0.26,"d":-1.55,"year":"2016"},{"c":-0.02,"d":-1.55,"year":"2016"},{"c":0.23,"d":-1.55,"year":"2016"},{"c":0.47,"d":-1.55,"year":"2016"},{"c":0.72,"d":-1.55,"year":"2016"},
{"c":-0.15,"d":-1.75,"year":"2016"},{"c":0.09,"d":-1.75,"year":"2016"},{"c":0.34,"d":-1.75,"year":"2016"},{"c":0.58,"d":-1.75,"year":"2016"},{"c":0.83,"d":-1.75,"year":"2016"}
]},
"mark":{"type":"circle","size":225,"opacity":1},
"encoding":{
"x":{"field":"c","type":"quantitative","scale":{"domain":[-7.947,5.14],"nice":false,"zero":false},"axis":{"values":[-7.5,-5,-2.5,0,2.5,5],"labelExpr":"datum.value==0?'0':replace(format(datum.value,'.1f'),'−','-')","title":"PC1 (45.1% explained var.)","titleX":367,"titleY":60,"labelPadding":2}},
"y":{"field":"d","type":"quantitative","scale":{"domain":[-4.855,10.98],"nice":false,"zero":false},"axis":{"values":[0,5,10],"labelExpr":"datum.value==10?'':format(datum.value,'d')","title":"PC2 (29.3% explained var.)","titleX":-76,"titleY":491,"labelPadding":8}},
"color":{"field":"year","type":"nominal","scale":{"domain":["2009","2012","2013","2016"],"range":["#000000","#00ff00","#ff0000","#0000ff"]},"legend":{"orient":"none","legendX":411,"legendY":1,"title":"Year\u00a0\u00a0\u00a0\u00a0\u00a0\u00a0","titleFontSize":45,"titleFont":"Liberation Sans","titleFontWeight":"normal","titleColor":"black","titleBaseline":"line-top","titleLineHeight":21,"titlePadding":12,"labelFontSize":40,"labelFont":"Liberation Sans","labelColor":"black","labelOffset":16,"symbolSize":625,"symbolType":"circle","symbolOffset":0,"rowPadding":9,"padding":30,"strokeColor":"black","fillColor":"white","cornerRadius":3}}
}}
